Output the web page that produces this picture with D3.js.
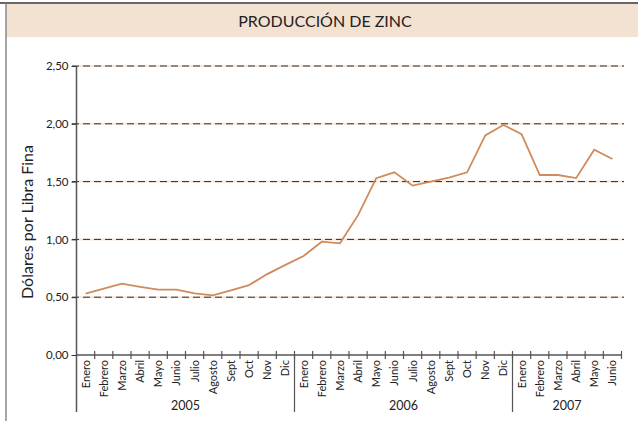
<!DOCTYPE html>
<html><head><meta charset="utf-8">
<script src="https://cdn.jsdelivr.net/npm/d3@7"></script>
<style>body{margin:0;background:#fff}svg{display:block}</style>
</head><body>
<svg id="c" width="638" height="421"></svg>
<script>
const months = ["Enero","Febrero","Marzo","Abril","Mayo","Junio","Julio","Agosto","Sept","Oct","Nov","Dic",
  "Enero","Febrero","Marzo","Abril","Mayo","Junio","Julio","Agosto","Sept","Oct","Nov","Dic",
  "Enero","Febrero","Marzo","Abril","Mayo","Junio"];
const years = ["2005","2006","2007"];
const yearStart = [0,12,24];
const yearLen = [12,12,6];
const values = [0.53,0.575,0.617,0.59,0.565,0.565,0.534,0.516,0.56,0.605,0.70,0.78,
  0.856,0.98,0.966,1.21,1.53,1.58,1.465,1.50,1.535,1.58,1.90,1.99,
  1.91,1.557,1.557,1.53,1.776,1.695];
const yTicks = [0,0.5,1,1.5,2,2.5];
const title = "PRODUCCIÓN DE ZINC";
const yLabel = "Dólares por Libra Fina";

const font = "Lato, 'Open Sans', sans-serif";
const svg = d3.select("#c");
// frame and title band
svg.append("rect").attr("x",6).attr("y",4).attr("width",632).attr("height",33).attr("fill","#f3e1d1");
svg.append("line").attr("x1",0).attr("x2",638).attr("y1",3).attr("y2",3).attr("stroke","#333").attr("stroke-width",1.5);
svg.append("line").attr("x1",6).attr("x2",6).attr("y1",3).attr("y2",421).attr("stroke","#888").attr("stroke-width",1.5);
svg.append("text").attr("x",325).attr("y",27).attr("text-anchor","middle")
  .attr("font-family",font).attr("font-size",16).attr("fill","#222").text(title);

const idx = d3.range(months.length);
const x = d3.scaleBand().domain(idx).range([76.5,621.5]);
const y = d3.scaleLinear().domain([0,2.5]).range([355,66]);

// gridlines
const g = svg.append("g");
yTicks.filter(v=>v>0).forEach(v=>{
  g.append("line").attr("x1",77).attr("x2",624).attr("y1",y(v)).attr("y2",y(v))
   .attr("stroke","#f7e6da").attr("stroke-width",2);
  g.append("line").attr("x1",72).attr("x2",624).attr("y1",y(v)).attr("y2",y(v))
   .attr("stroke","#2a2a2a").attr("stroke-width",1).attr("stroke-dasharray","7,4");
});

// y axis
const ya = svg.append("g").attr("transform","translate(76.5,0)")
  .call(d3.axisLeft(y).tickValues(yTicks).tickSize(5).tickPadding(3)
    .tickFormat(d=>d3.format(".2f")(d).replace(".",",")));
ya.select(".domain").attr("stroke","#555").attr("stroke-width",1.5).attr("d","M0,66V412");
ya.selectAll(".tick line").attr("stroke","#333");
ya.selectAll("text").attr("font-family",font).attr("font-size",11.5).attr("fill","#222");

svg.append("text").attr("transform","translate(33,222) rotate(-90)").attr("text-anchor","middle")
  .attr("font-family",font).attr("font-size",16).attr("fill","#222").text(yLabel);

// x axis
const xa = svg.append("g").attr("transform","translate(0,355)");
xa.append("line").attr("x1",76.5).attr("x2",622).attr("stroke","#555").attr("stroke-width",1.5);
idx.forEach(i=>{
  const xe = x(i)+x.bandwidth();
  xa.append("line").attr("x1",xe).attr("x2",xe).attr("y1",-4).attr("y2",4).attr("stroke","#555").attr("stroke-width",1.2);
  xa.append("text").attr("transform",`translate(${x(i)+x.bandwidth()/2+4},5) rotate(-90)`)
    .attr("text-anchor","end").attr("font-family",font).attr("font-size",11).attr("fill","#222").text(months[i]);
});
years.forEach((yr,k)=>{
  const s = x(yearStart[k]);
  if(k>0) xa.append("line").attr("x1",s).attr("x2",s).attr("y1",0).attr("y2",57).attr("stroke","#555").attr("stroke-width",1.2);
  const e = x(yearStart[k]+yearLen[k]-1)+x.bandwidth();
  xa.append("text").attr("x",(s+e)/2).attr("y",55).attr("text-anchor","middle")
    .attr("font-family",font).attr("font-size",12.5).attr("fill","#222").text(yr);
});

// line
svg.append("path").datum(values)
  .attr("d",d3.line().x((d,i)=>x(i)+x.bandwidth()/2).y(d=>y(d)))
  .attr("fill","none").attr("stroke","#cf8b5c").attr("stroke-width",1.8);
</script>
</body></html>
